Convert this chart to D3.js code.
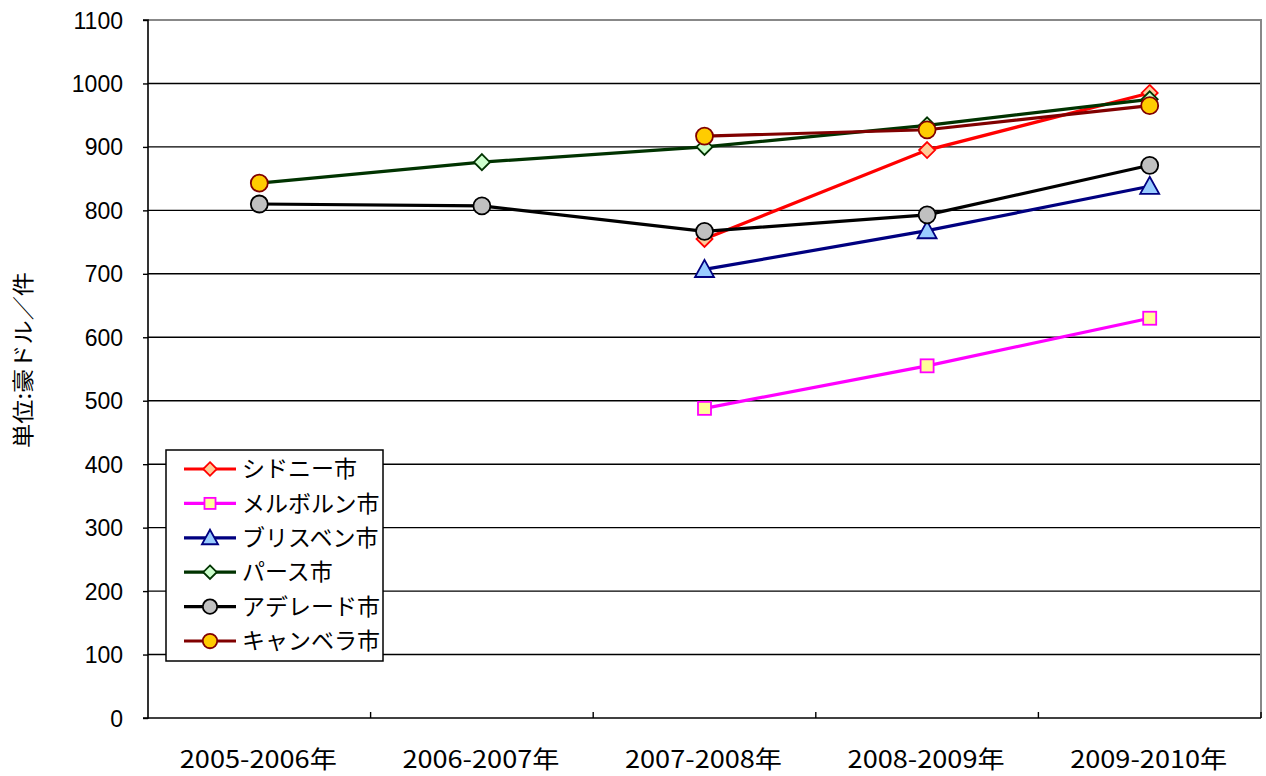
<!DOCTYPE html>
<html>
<head>
<meta charset="utf-8">
<script src="https://cdn.jsdelivr.net/npm/d3@7"></script>
<style>
  html, body { margin: 0; padding: 0; background: #fff; }
  svg { display: block; }
</style>
</head>
<body>
<svg id="chart" width="1266" height="776"></svg>
<script>
// Fiscal years on the x axis
const categories = ["2005-2006年", "2006-2007年", "2007-2008年", "2008-2009年", "2009-2010年"];
const yTicks = [0, 100, 200, 300, 400, 500, 600, 700, 800, 900, 1000, 1100];

// Values per city (null = no data for that year)
const sydney    = [null, null, 755, 895, 985];
const melbourne = [null, null, 488, 555, 630];
const brisbane  = [null, null, 707, 768, 838];
const perth     = [843, 876, 900, 934, 975];
const adelaide  = [810, 807, 767, 793, 871];
const canberra  = [843, null, 917, 927, 965];

const seriesNames = ["シドニー市", "メルボルン市", "ブリスベン市", "パース市", "アデレード市", "キャンベラ市"];

const series = [
  { name: seriesNames[0], values: sydney,    line: "#ff0000", fill: "#ffcc99", stroke: "#ff0000", shape: "diamond" },
  { name: seriesNames[1], values: melbourne, line: "#ff00ff", fill: "#ffff99", stroke: "#ff00ff", shape: "square" },
  { name: seriesNames[2], values: brisbane,  line: "#000080", fill: "#99ccff", stroke: "#000080", shape: "triangle" },
  { name: seriesNames[3], values: perth,     line: "#003300", fill: "#ccffcc", stroke: "#003300", shape: "diamond" },
  { name: seriesNames[4], values: adelaide,  line: "#000000", fill: "#c0c0c0", stroke: "#000000", shape: "circle" },
  { name: seriesNames[5], values: canberra,  line: "#800000", fill: "#ffcc00", stroke: "#800000", shape: "circle" }
];

const svg = d3.select("#chart");
const plotL = 148, plotR = 1261, plotT = 20, plotB = 718;

const x = d3.scaleBand().domain(categories).range([plotL, plotR]).padding(0);
const y = d3.scaleLinear().domain([0, 1100]).range([plotB, plotT]);

const jpFont = "'Noto Sans CJK JP', 'Noto Sans', sans-serif";
const numFont = "'Liberation Sans', Arial, sans-serif";

// Gridlines
svg.append("g").selectAll("line")
  .data(yTicks.filter(d => d > 0 && d < 1100))
  .join("line")
  .attr("x1", plotL).attr("x2", plotR)
  .attr("y1", d => y(d)).attr("y2", d => y(d))
  .attr("stroke", "#000").attr("stroke-width", 1.4);

// Top and right frame
svg.append("path")
  .attr("d", `M${plotL},${y(1100)}H${plotR}V${plotB}`)
  .attr("fill", "none").attr("stroke", "#888").attr("stroke-width", 2);

// Y axis
const yAxis = svg.append("g")
  .attr("transform", `translate(${plotL},0)`)
  .call(d3.axisLeft(y).tickValues(yTicks).tickSize(5).tickPadding(20).tickFormat(d3.format("d")));
yAxis.select(".domain").attr("stroke", "#000").attr("stroke-width", 1.6).attr("d", `M-5,${plotT}H0V${plotB}H-5`);
yAxis.selectAll(".tick line").attr("stroke", "#000").attr("stroke-width", 1.4);
yAxis.selectAll(".tick text")
  .attr("font-family", numFont).attr("font-size", 23).attr("fill", "#000")
  .attr("dy", "0.35em");

// X axis: ticks at band boundaries, pointing up
const xg = svg.append("g");
xg.append("line").attr("x1", plotL).attr("x2", plotR).attr("y1", plotB).attr("y2", plotB)
  .attr("stroke", "#000").attr("stroke-width", 1.6);
const bounds = categories.map(c => x(c)).concat([x(categories[categories.length - 1]) + x.bandwidth()]);
xg.selectAll("line.tk").data(bounds.slice(1)).join("line").attr("class", "tk")
  .attr("x1", d => d).attr("x2", d => d).attr("y1", plotB).attr("y2", plotB - 6)
  .attr("stroke", "#000").attr("stroke-width", 1.4);
xg.selectAll("text").data(categories).join("text")
  .attr("x", d => x(d) + x.bandwidth() / 2 - 1)
  .attr("y", 768)
  .attr("text-anchor", "middle")
  .attr("font-family", jpFont).attr("font-size", 24).attr("fill", "#000")
  .attr("textLength", 157).attr("lengthAdjust", "spacingAndGlyphs")
  .text(d => d);

// Y axis title
svg.append("text")
  .attr("transform", `translate(31,360) rotate(-90)`)
  .attr("text-anchor", "middle")
  .attr("font-family", jpFont).attr("font-size", 22).attr("fill", "#000")
  .attr("textLength", 176).attr("lengthAdjust", "spacingAndGlyphs")
  .text("単位:豪ドル／件");

// Marker drawing
function drawMarker(g, s, size) {
  const k = size || 1;
  if (s.shape === "diamond") {
    const r = 8 * k;
    g.append("path").attr("d", `M0,${-r}L${r},0L0,${r}L${-r},0Z`);
  } else if (s.shape === "square") {
    const r = 6.5 * k;
    g.append("rect").attr("x", -r).attr("y", -r).attr("width", 2 * r).attr("height", 2 * r);
  } else if (s.shape === "triangle") {
    const r = 9.5 * k;
    g.append("path").attr("d", `M0,${-r}L${r},${r * 0.8}L${-r},${r * 0.8}Z`);
  } else {
    g.append("circle").attr("r", 8.5 * k);
  }
  g.selectAll("*").attr("fill", s.fill).attr("stroke", s.stroke).attr("stroke-width", 1.8);
}

// Missing years break the line
const line = d3.line()
  .defined(d => d.v != null)
  .x(d => x(d.c) + x.bandwidth() / 2)
  .y(d => y(d.v));

series.forEach(s => {
  const pts = categories.map((c, i) => ({ c, v: s.values[i] }));
  svg.append("path")
    .datum(pts)
    .attr("d", line)
    .attr("fill", "none")
    .attr("stroke", s.line)
    .attr("stroke-width", 3.2);
});

series.forEach(s => {
  categories.forEach((c, i) => {
    const v = s.values[i];
    if (v == null) return;
    const g = svg.append("g")
      .attr("transform", `translate(${x(c) + x.bandwidth() / 2},${y(v)})`);
    drawMarker(g, s);
  });
});

// Legend
const lg = svg.append("g").attr("transform", "translate(166,450)");
lg.append("rect").attr("x", 0).attr("y", 0).attr("width", 217).attr("height", 211)
  .attr("fill", "#fff").attr("stroke", "#000").attr("stroke-width", 1.5);
series.forEach((s, i) => {
  const cy = 19 + i * 34.4;
  const row = lg.append("g").attr("transform", `translate(0,${cy})`);
  row.append("line").attr("x1", 18).attr("x2", 70).attr("y1", 0).attr("y2", 0)
    .attr("stroke", s.line).attr("stroke-width", 3.2);
  const m = row.append("g").attr("transform", "translate(44,0)");
  drawMarker(m, s, 0.85);
  row.append("text").attr("x", 76).attr("y", 0).attr("dy", "0.36em")
    .attr("font-family", jpFont).attr("font-size", 23).attr("fill", "#000")
    .text(s.name);
});
</script>
</body>
</html>
